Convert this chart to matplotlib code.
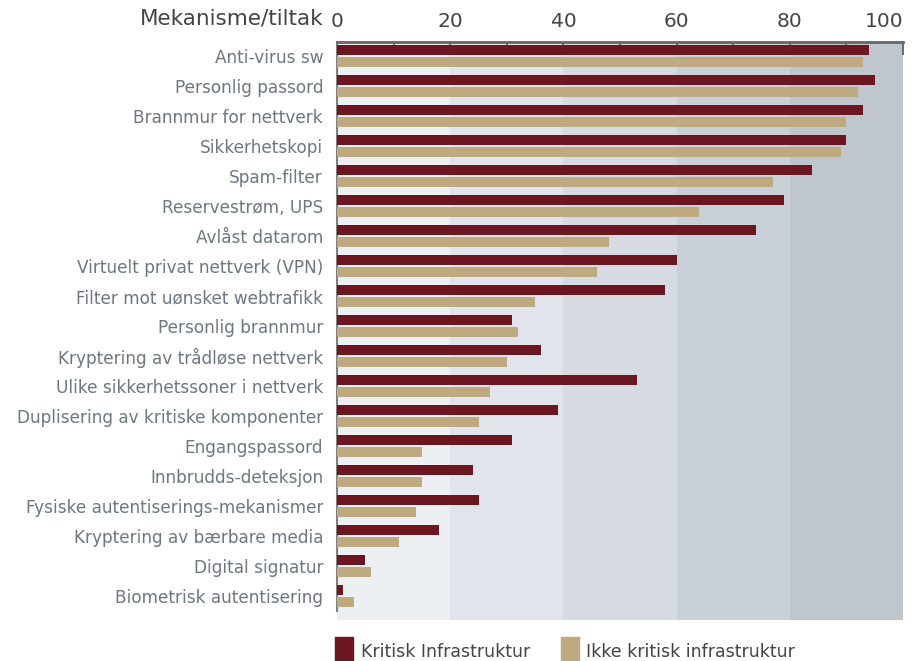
import matplotlib
matplotlib.use('agg')
import matplotlib.pyplot as plt
from matplotlib.patches import Rectangle
import numpy as np

categories = ['Anti-virus sw', 'Personlig passord', 'Brannmur for nettverk',
              'Sikkerhetskopi', 'Spam-filter', 'Reservestrøm, UPS',
              'Avlåst datarom', 'Virtuelt privat nettverk (VPN)',
              'Filter mot uønsket webtrafikk', 'Personlig brannmur',
              'Kryptering av trådløse nettverk', 'Ulike sikkerhetssoner i nettverk',
              'Duplisering av kritiske komponenter', 'Engangspassord',
              'Innbrudds-deteksjon', 'Fysiske autentiserings-mekanismer',
              'Kryptering av bærbare media', 'Digital signatur',
              'Biometrisk autentisering']
kritisk = [94, 95, 93, 90, 84, 79, 74, 60, 58, 31, 36, 53, 39, 31, 24, 25, 18, 5, 1]
ikke_kritisk = [93, 92, 90, 89, 77, 64, 48, 46, 35, 32, 30, 27, 25, 15, 15, 14, 11, 6, 3]
series_names = ['Kritisk Infrastruktur', 'Ikke kritisk infrastruktur']

red = '#6b1620'
tan = '#bfa97e'
band_colors = ['#edf0f3', '#e1e4ea', '#d6dae2', '#cad0d8', '#c0c6ce']
label_color = '#6d7780'
dark = '#444444'

fig = plt.figure(figsize=(9.24, 6.61), dpi=100)
ax = fig.add_axes([337/924, 1 - 620/661, 566/924, 578/661])

y = np.arange(len(categories))
ax.barh(y - 0.2, kritisk, height=0.36, color=red, zorder=3)
ax.barh(y + 0.2, ikke_kritisk, height=0.36, color=tan, zorder=3)

for i, c in enumerate(band_colors):
    ax.axvspan(i * 20, (i + 1) * 20, color=c, lw=0, zorder=0)

ax.set_xlim(0, 100)
ax.set_ylim(18.8, -0.47)

ax.set_yticks(y)
ax.set_yticklabels(categories, color=label_color, fontsize=12.2)
ax.tick_params(axis='y', length=0, pad=10)

ax.xaxis.tick_top()
ax.set_xticks(np.arange(0, 101, 20))
ax.set_xticks(np.arange(10, 100, 20), minor=True)
ax.set_xticklabels([str(v) for v in range(0, 101, 20)], color=dark, fontsize=14.5)
ax.tick_params(axis='x', which='both', direction='in', length=9, width=1.2,
               color='#555555', pad=8)
lbls = ax.get_xticklabels()
lbls[-1].set_horizontalalignment('right')
lbls[-1].set_x(100.3)

for s in ['right', 'bottom']:
    ax.spines[s].set_visible(False)
ax.spines['top'].set_color('#666666')
ax.spines['top'].set_linewidth(2)
ax.spines['left'].set_color('#808080')
ax.spines['left'].set_linewidth(1.5)
ax.spines['left'].set_bounds(18.5, -0.47)

fig.text(323/924, 1 - 19/661, 'Mekanisme/tiltak', ha='right', va='center',
         color=dark, fontsize=15.5)

# legend
fig.add_artist(Rectangle((335/924, 1 - 661/661), 18/924, 24/661,
                         transform=fig.transFigure, color=red))
fig.text(361/924, 1 - 652/661, series_names[0], va='center', color=dark, fontsize=12.5)
fig.add_artist(Rectangle((561/924, 1 - 661/661), 18/924, 24/661,
                         transform=fig.transFigure, color=tan))
fig.text(586/924, 1 - 652/661, series_names[1], va='center', color=dark, fontsize=12.5)

plt.savefig('out.png', dpi=100)
plt.close()
